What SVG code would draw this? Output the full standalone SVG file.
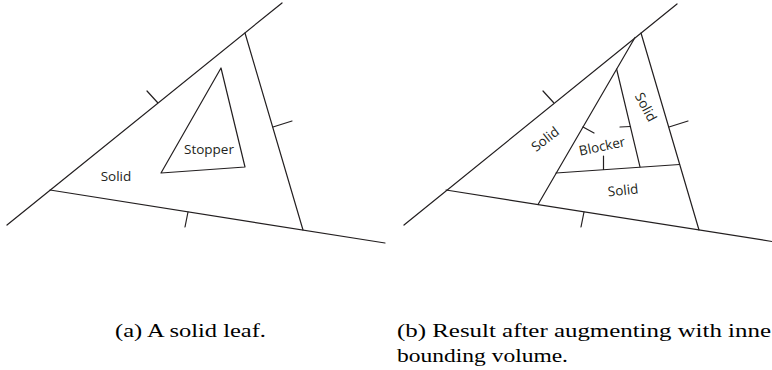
<svg xmlns="http://www.w3.org/2000/svg" width="772" height="370" viewBox="0 0 772 370">
  <style>
    .ln { stroke: #231f20; stroke-width: 1.2; fill: none; stroke-linecap: round; stroke-linejoin: round; }
    .lbl { font-family: "Open Sans", "Liberation Sans", sans-serif; font-size: 13.5px; fill: #231f20; text-anchor: middle; dominant-baseline: central; }
    .cap { font-family: "Liberation Serif", "DejaVu Serif", serif; font-size: 19px; fill: #000; }
  </style>
  <rect width="772" height="370" fill="#fff"/>

  <g id="panel-a">
    <g id="connectors-a">
      <line class="ln" x1="7" y1="225" x2="282" y2="3"/>
      <line class="ln" x1="50" y1="190" x2="385" y2="243"/>
      <line class="ln" x1="245" y1="33" x2="303" y2="230"/>
      <line class="ln" x1="147" y1="91" x2="157.5" y2="102.5"/>
      <line class="ln" x1="273" y1="127" x2="292" y2="121"/>
      <line class="ln" x1="188" y1="212" x2="185" y2="227"/>
    </g>
    <g id="stopper">
      <polygon class="ln" points="221,68 245,167 161,173"/>
      <text class="lbl" x="209" y="149">Stopper</text>
    </g>
    <g id="solid-a">
      <text class="lbl" x="116" y="176">Solid</text>
    </g>
  </g>

  <g id="panel-b" transform="translate(396,0)">
    <g id="connectors-b">
      <line class="ln" x1="8" y1="225" x2="281" y2="4"/>
      <line class="ln" x1="50" y1="190" x2="390" y2="243.7"/>
      <line class="ln" x1="245" y1="33" x2="303" y2="230"/>
      <line class="ln" x1="147" y1="91" x2="157.5" y2="102.5"/>
      <line class="ln" x1="273" y1="127" x2="292" y2="121"/>
      <line class="ln" x1="188" y1="212" x2="185" y2="227"/>
      <line class="ln" x1="239" y1="37.5" x2="142" y2="204.5"/>
      <line class="ln" x1="160" y1="173" x2="283.5" y2="164.5"/>
      <line class="ln" x1="220.6" y1="69" x2="244" y2="166.8"/>
      <line class="ln" x1="187" y1="127" x2="198" y2="133"/>
      <line class="ln" x1="224" y1="127" x2="234.5" y2="126.5"/>
      <line class="ln" x1="207.5" y1="156" x2="207.5" y2="169.5"/>
    </g>
    <g id="solid-outer">
      <text class="lbl" x="0" y="0" transform="translate(149,139) rotate(-38)">Solid</text>
    </g>
    <g id="blocker">
      <text class="lbl" x="0" y="0" transform="translate(206,146) rotate(-12)">Blocker</text>
    </g>
    <g id="solid-strip">
      <text class="lbl" x="0" y="0" transform="translate(250,107) rotate(62)">Solid</text>
    </g>
    <g id="solid-bottom">
      <text class="lbl" x="0" y="0" transform="translate(227,190) rotate(-6)">Solid</text>
    </g>
  </g>

  <g id="captions">
    <text class="cap" x="115" y="337" textLength="151" lengthAdjust="spacingAndGlyphs">(a) A solid leaf.</text>
    <text class="cap" x="397" y="337" textLength="374" lengthAdjust="spacingAndGlyphs">(b) Result after augmenting with inne</text>
    <text class="cap" x="397" y="362" textLength="171" lengthAdjust="spacingAndGlyphs">bounding volume.</text>
  </g>
</svg>
